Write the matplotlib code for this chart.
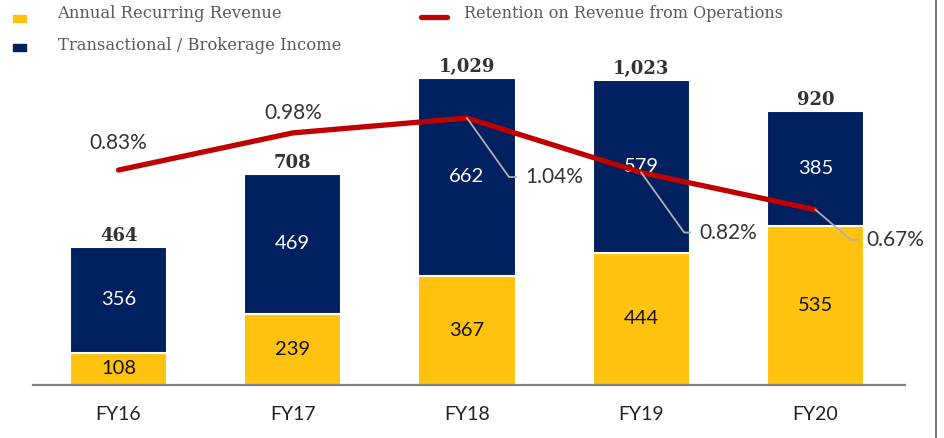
import numpy as np
import matplotlib.pyplot as plt
from matplotlib.lines import Line2D
from matplotlib.patches import Rectangle

years = ["FY16", "FY17", "FY18", "FY19", "FY20"]
recurring = [108, 239, 367, 444, 535]
transactional = [356, 469, 662, 579, 385]
totals = [464, 708, 1029, 1023, 920]
retention = [0.83, 0.98, 1.04, 0.82, 0.67]
ret_labels = ["0.83%", "0.98%", "1.04%", "0.82%", "0.67%"]

yellow = "#FFC20E"
navy = "#002060"
red = "#C00000"
sans = ["Lato", "DejaVu Sans"]
serif = ["DejaVu Serif"]

W, H = 945, 438
fig = plt.figure(figsize=(W / 100, H / 100), dpi=100)
# axes box in pixel terms: left 33, right 905, bottom 385, top 70
ax = fig.add_axes([33 / W, (H - 385) / H, (905 - 33) / W, (385 - 70) / H])
x = np.arange(len(years))
bw = 0.557

ax.bar(x, recurring, bw, color=yellow, edgecolor="white", linewidth=1.5, zorder=2)
ax.bar(x, transactional, bw, bottom=recurring, color=navy, edgecolor="white", linewidth=1.5, zorder=2)
ax.set_xlim(-0.491, 4.514)
ax.set_ylim(0, 1057)

for i in range(len(years)):
    ax.text(x[i], recurring[i] / 2, str(recurring[i]), ha="center", va="center",
            fontsize=14.5, family=sans, color="#111111", zorder=6)
    ax.text(x[i], recurring[i] + transactional[i] / 2, str(transactional[i]), ha="center", va="center",
            fontsize=14.5, family=sans, color="white", zorder=6)
    ax.annotate(f"{totals[i]:,}", (x[i], totals[i]), xytext=(0, 1.5), textcoords="offset points",
                ha="center", va="bottom", fontsize=13, fontweight="bold", family=serif, color="#333333")

for s in ["top", "right", "left"]:
    ax.spines[s].set_visible(False)
ax.spines["bottom"].set_color("#808080")
ax.spines["bottom"].set_linewidth(1.6)
ax.set_yticks([])
ax.set_xticks(x)
ax.set_xticklabels(years, fontsize=14, family=sans, color="#222222")
ax.tick_params(axis="x", length=0, pad=15)

ax2 = ax.twinx()
ax2.set_ylim(-0.038, 1.234)
ax2.axis("off")
ax2.plot(x, retention, color=red, linewidth=3.8, solid_capstyle="round", zorder=3)

# labels above the line for FY16, FY17 (pixel offsets)
for i, up in [(0, 27), (1, 20)]:
    ax2.annotate(ret_labels[i], (x[i], retention[i]), xytext=(0, up * 0.72), textcoords="offset points",
                 ha="center", va="center", fontsize=15, family=sans, color="#333333")

# callouts with leader lines: diagonal dx, dy then short horizontal, pixel units
leaders = {2: (42, 59, 7), 3: (43, 60, 6), 4: (35, 30, 7)}
for i, (dx, dy, h) in leaders.items():
    px, py = ax2.transData.transform((x[i], retention[i]))
    xs = [px, px + dx, px + dx + h]
    ys = [py, py - dy, py - dy]
    fig.lines.append(Line2D([v / W for v in xs], [v / H for v in ys], transform=fig.transFigure,
                            color="#b0b0b0", linewidth=1.3, zorder=7))
    fig.text((px + dx + h + 9) / W, (py - dy) / H, ret_labels[i], ha="left", va="center",
             fontsize=15, family=sans, color="#333333")

# legend drawn manually
fig.patches.append(Rectangle((13 / W, 1 - 22 / H), 13 / W, 7 / H, transform=fig.transFigure, color=yellow))
fig.patches.append(Rectangle((13 / W, 1 - 51 / H), 13 / W, 7 / H, transform=fig.transFigure, color=navy))
fig.lines.append(Line2D([421 / W, 447 / W], [1 - 17 / H, 1 - 17 / H], transform=fig.transFigure,
                        color=red, linewidth=3.8, solid_capstyle="round"))
fig.text(57 / W, 1 - 14 / H, "Annual Recurring Revenue", fontsize=11.8, family=serif, color="#595959", va="center")
fig.text(58 / W, 1 - 45 / H, "Transactional / Brokerage Income", fontsize=11.8, family=serif, color="#595959", va="center")
fig.text(464 / W, 1 - 14 / H, "Retention on Revenue from Operations", fontsize=11.5, family=serif, color="#595959", va="center")
fig.lines.append(Line2D([936.5 / W, 936.5 / W], [0, 1], transform=fig.transFigure, color="#606060", linewidth=1.2))

fig.savefig("out.png", dpi=100)
